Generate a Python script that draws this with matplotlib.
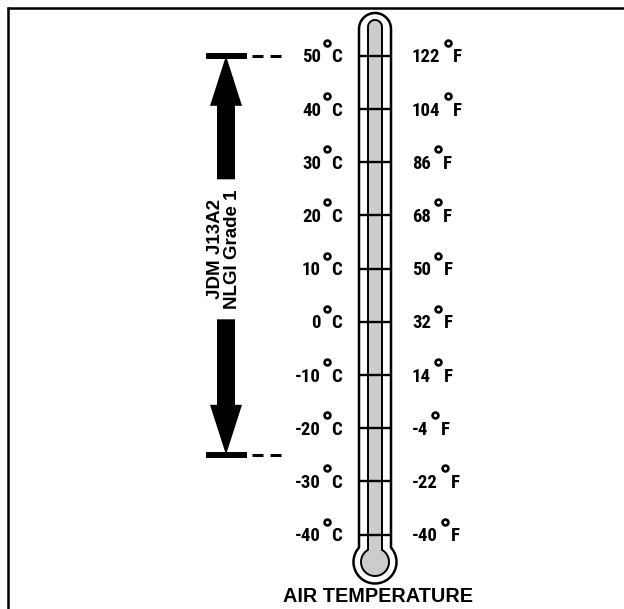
import numpy as np
import matplotlib
matplotlib.use("Agg")
import matplotlib.pyplot as plt
from matplotlib import font_manager
from matplotlib.patches import Polygon

# scale readings
celsius = [50, 40, 30, 20, 10, 0, -10, -20, -30, -40]
fahrenheit = [122, 104, 86, 68, 50, 32, 14, -4, -22, -40]

# grease operating range (deg C)
grease_range = [-25, 50]
grease_label = "JDM J13A2\nNLGI Grade 1"
axis_title = "AIR TEMPERATURE"


def pick_font(names):
    for name in names:
        try:
            font_manager.findfont(font_manager.FontProperties(family=name, weight="bold"),
                                  fallback_to_default=False)
            return name
        except ValueError:
            continue
    return "DejaVu Sans"


LABEL_FONT = pick_font(["Liberation Sans Narrow", "Roboto Condensed", "Liberation Sans"])
TEXT_FONT = pick_font(["Liberation Sans", "Arial"])

PX_PER_DEG = 5.32
TOP_DEG = 60.49  # degrees at the top edge of the figure


def deg(px):
    # pixel row -> axis value
    return TOP_DEG - px / PX_PER_DEG


def dy(px):
    # pixel length -> axis units
    return px / PX_PER_DEG


fig = plt.figure(figsize=(6.24, 6.09), dpi=100)
ax = fig.add_axes([0, 0, 1, 1])
ax.set_xlim(0, 624)
ax.set_ylim(deg(609), deg(0))
ax.axis("off")

# frame (top and left edges only)
ax.plot([7, 624], [deg(7.5), deg(7.5)], color="black", lw=1.8, solid_capstyle="butt")
ax.plot([7.5, 7.5], [deg(7), deg(609)], color="black", lw=1.8, solid_capstyle="butt")


def capsule(cx, half_w, top_px, bulb_px, bulb_r):
    t = np.linspace(0, np.pi, 40)
    top_c = deg(top_px) - dy(half_w)
    xs = list(cx + half_w * np.cos(t))
    ys = list(top_c + dy(half_w) * np.sin(t))
    a = np.arcsin(half_w / bulb_r)
    phi = np.linspace(np.pi / 2 + a, 2.5 * np.pi - a, 90)
    xs += list(cx + bulb_r * np.cos(phi))
    ys += list(deg(bulb_px) + dy(bulb_r) * np.sin(phi))
    return np.column_stack([xs, ys])


CX = 375
outer = Polygon(capsule(CX, 16, 13, 562, 21.5), closed=True,
                facecolor="white", edgecolor="black", lw=1.8, zorder=2)
inner = Polygon(capsule(CX, 7, 20, 562, 14), closed=True,
                facecolor="#cccccc", edgecolor="black", lw=1.4, zorder=3)
ax.add_patch(outer)
ax.add_patch(inner)
ax.hlines(celsius, CX - 16, CX + 16, color="black", lw=1.7, zorder=4)

lab = dict(fontsize=13.5, fontweight="bold", family=LABEL_FONT, va="baseline")
ring = dict(ms=4.2, mfc="white", mec="black", mew=1.9, zorder=5)

# celsius labels
for c in celsius:
    ax.text(321, c - dy(6.5), f"{c}", ha="right", **lab)
    ax.text(331, c - dy(6.5), "C", ha="left", **lab)
ax.plot([327] * len(celsius), np.array(celsius) + dy(13), "o", **ring)

# fahrenheit labels
f_texts = []
for c, f in zip(celsius, fahrenheit):
    f_texts.append(ax.text(412, c - dy(6.5), f"{f}", ha="left", **lab))
fig.canvas.draw()
renderer = fig.canvas.get_renderer()
inv = ax.transData.inverted()
for t, c in zip(f_texts, celsius):
    bb = t.get_window_extent(renderer)
    x_end = inv.transform((bb.x1, bb.y0))[0]
    ax.plot(x_end + 7, c + dy(13), "o", **ring)
    ax.text(x_end + 12.5, c - dy(6.5), "F", ha="left", **lab)

# range arrow
lo, hi = grease_range
XA = 226
mid = (lo + hi) / 2 + dy(6)
gap = dy(70)
head = dy(50)
up = [(XA - 9, mid + gap), (XA - 9, hi - head), (XA - 16, hi - head), (XA, hi),
      (XA + 16, hi - head), (XA + 9, hi - head), (XA + 9, mid + gap)]
down = [(XA - 9, mid - gap), (XA - 9, lo + head), (XA - 16, lo + head), (XA, lo),
        (XA + 16, lo + head), (XA + 9, lo + head), (XA + 9, mid - gap)]
ax.add_patch(Polygon(up, closed=True, facecolor="black", edgecolor="none"))
ax.add_patch(Polygon(down, closed=True, facecolor="black", edgecolor="none"))
ax.hlines([lo, hi], 206, 247, color="black", lw=4.3)
for v in (lo, hi):
    ax.plot([252, 283], [v, v], color="black", lw=2.2, dashes=(3.6, 2.3))

ax.text(224, mid, grease_label, rotation=90, ha="center", va="center",
        fontsize=13.5, fontweight="bold", family=TEXT_FONT, linespacing=1.0,
        multialignment="center")

ax.text(378, deg(602), axis_title, ha="center", va="baseline", fontsize=14.3,
        fontweight="bold", family=TEXT_FONT)

fig.savefig("out.png", dpi=100)
